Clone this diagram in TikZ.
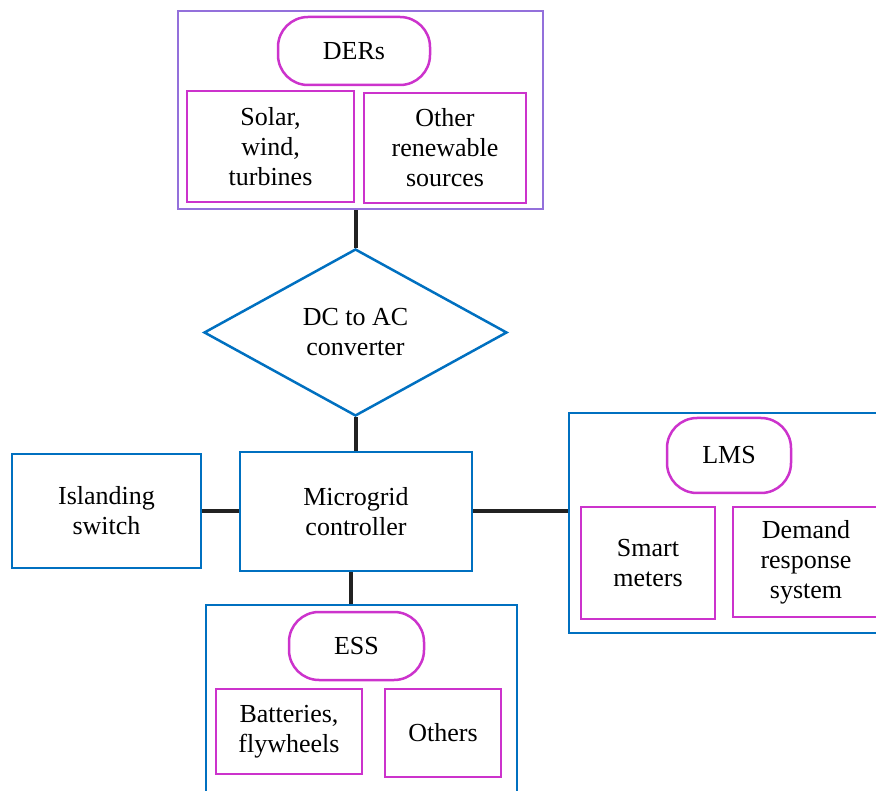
\documentclass[tikz,border=0pt]{standalone}
\usepackage{fontspec}
\setmainfont{Liberation Serif}
\usetikzlibrary{shapes.geometric}
\definecolor{dergroup}{RGB}{147,112,219}
\definecolor{itempink}{RGB}{204,51,204}
\definecolor{boxblue}{RGB}{0,112,192}
\definecolor{wire}{RGB}{34,34,34}

\begin{document}
\begin{tikzpicture}[x=1pt,y=-1pt,
  font=\fontsize{26}{30}\selectfont,
  group/.style={draw=boxblue, line width=2.5pt, inner sep=0pt},
  item/.style={draw=itempink, line width=2.5pt, align=center, inner sep=0pt},
  tag/.style={draw=itempink, line width=2.5pt, rounded corners=30pt, inner sep=0pt},
  link/.style={draw=wire, line width=4pt}]
\useasboundingbox (0,0) rectangle (876,791);
\clip (0,0) rectangle (876,791);

\coordinate (D) at (360.5,110);
\coordinate (C) at (355.5,332.5);
\coordinate (M) at (356,511.5);
\coordinate (I) at (106.5,511);
\coordinate (L) at (734.5,523);
\coordinate (E) at (361.5,712.5);

% DERs
\node [group, draw=dergroup, minimum width=365pt, minimum height=198pt] (ders) at (D) {};
\node [tag, minimum width=152pt, minimum height=68pt] (dersTag) at (354,51) {DERs};
\node [item, minimum width=167pt, minimum height=111pt] (solar) at (270.5,146.5) {Solar,\\wind,\\turbines};
\node [item, minimum width=162pt, minimum height=110pt] (otherRen) at (445,148) {Other\\renewable\\sources};

% converter
\node [diamond, draw=boxblue, line width=2.5pt, inner sep=0pt, aspect=1.8,
  minimum width=303pt, minimum height=167pt, align=center] (conv) at (C) {DC to AC\\converter};

% controller and switch
\node [group, align=center, minimum width=232pt, minimum height=119pt] (ctrl) at (M) {Microgrid\\controller};
\node [group, align=center, minimum width=189pt, minimum height=114pt] (island) at (I) {Islanding\\switch};

% LMS
\node [group, minimum width=331pt, minimum height=220pt] (lms) at (L) {};
\node [tag, minimum width=124pt, minimum height=75pt] (lmsTag) at (729,455.5) {LMS};
\node [item, minimum width=134pt, minimum height=112pt] (smart) at (648,563) {Smart\\meters};
\node [item, minimum width=146pt, minimum height=110pt] (demand) at (806,562) {Demand\\response\\system};

% ESS
\node [group, minimum width=311pt, minimum height=215pt] (ess) at (E) {};
\node [tag, minimum width=135pt, minimum height=68pt] (essTag) at (356.5,646) {ESS};
\node [item, minimum width=146pt, minimum height=85pt] (batt) at (289,731.5) {Batteries,\\flywheels};
\node [item, minimum width=116pt, minimum height=88pt] (others) at (443,733) {Others};

% links
\draw [link] (conv.north |- ders.south) -- (conv.north);
\draw [link] (conv.south) -- (conv.south |- ctrl.north);
\draw [link] (island.east) -- (island.east -| ctrl.west);
\draw [link] (ctrl.east) -- (ctrl.east -| lms.west);
\draw [link] ([xshift=-5pt]ctrl.south) -- ([xshift=-5pt]ctrl.south |- ess.north);
\end{tikzpicture}
\end{document}
